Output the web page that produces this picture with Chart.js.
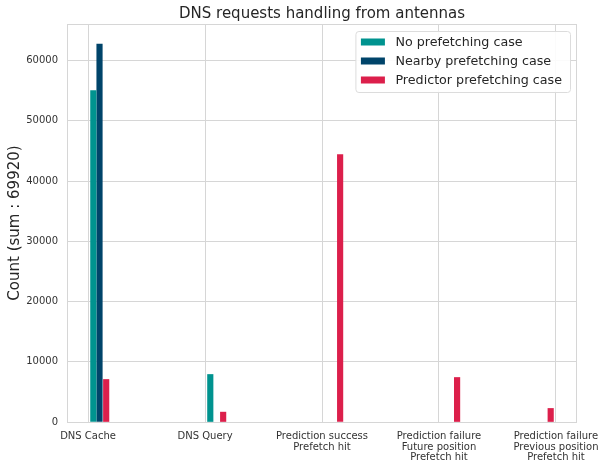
<!DOCTYPE html>
<html>
<head>
<meta charset="utf-8">
<script src="https://cdn.jsdelivr.net/npm/chart.js"></script>
<style>
  html, body { margin: 0; padding: 0; background: #fff; }
  #wrap { width: 598px; height: 466px; }
</style>
</head>
<body>
<div id="wrap"><canvas id="dnsChart" width="598" height="466"></canvas></div>
<script>
// categories on the x axis
const categories = [
    ['DNS Cache'],
    ['DNS Query'],
    ['Prediction success', 'Prefetch hit'],
    ['Prediction failure', 'Future position', 'Prefetch hit'],
    ['Prediction failure', 'Previous position', 'Prefetch hit']
];

// counts
const noPrefetchCounts = [55020, 7890, 0, 0, 0];
const nearbyCounts = [62760, 0, 0, 0, 0];
const predictorCounts = [7060, 1640, 44410, 7390, 2250];

// where each bar sits along the x axis (category units)
const noPrefetchPos = [0.045, 1.045, 2.045, 3.045, 4.045];
const nearbyPos = [0.098, 1.098, 2.098, 3.098, 4.098];
const predictorPos = [0.155, 1.155, 2.155, 3.155, 3.955];

const yTicks = [0, 10000, 20000, 30000, 40000, 50000, 60000];

const FONT = "'DejaVu Sans', sans-serif";
const GRID = '#d6d6d6';

// empty counts draw nothing
function toPoints(pos, counts) {
    return counts.map((c, i) => ({ x: pos[i], y: c === 0 ? null : c }));
}

// legend box inside the plot, top right
const boxLegend = {
    id: 'boxLegend',
    afterDraw(chart) {
        const ctx = chart.ctx;
        const area = chart.chartArea;
        const sets = chart.data.datasets;
        ctx.save();
        ctx.font = '12.7px ' + FONT;
        let maxW = 0;
        sets.forEach(ds => { maxW = Math.max(maxW, ctx.measureText(ds.label).width); });
        const w = 5 + 24 + 11 + maxW + 8;
        const h = 61;
        const right = area.right - 7;
        const left = right - w;
        const top = area.top + 7;
        ctx.fillStyle = 'rgba(255,255,255,0.9)';
        ctx.strokeStyle = '#dcdcdc';
        ctx.lineWidth = 1;
        ctx.beginPath();
        ctx.roundRect(left + 0.5, top + 0.5, w, h, 3);
        ctx.fill();
        ctx.stroke();
        sets.forEach((ds, i) => {
            const cy = top + 11 + i * 19;
            ctx.fillStyle = ds.backgroundColor;
            ctx.fillRect(left + 5.5, cy - 3.5, 24, 7);
            ctx.fillStyle = '#262626';
            ctx.textBaseline = 'middle';
            ctx.textAlign = 'left';
            ctx.fillText(ds.label, left + 40, cy + 0.5);
        });
        ctx.restore();
    }
};

// light frame around the plot area
const plotFrame = {
    id: 'plotFrame',
    beforeDatasetsDraw(chart) {
        const ctx = chart.ctx;
        const a = chart.chartArea;
        ctx.save();
        ctx.strokeStyle = GRID;
        ctx.lineWidth = 1;
        ctx.strokeRect(Math.round(a.left) + 0.5, Math.round(a.top) + 0.5,
            Math.round(a.right - a.left) - 1, Math.round(a.bottom - a.top));
        ctx.restore();
    }
};

new Chart(document.getElementById('dnsChart'), {
    type: 'bar',
    data: {
        datasets: [
            {
                label: 'No prefetching case',
                data: toPoints(noPrefetchPos, noPrefetchCounts),
                backgroundColor: '#00938f'
            },
            {
                label: 'Nearby prefetching case',
                data: toPoints(nearbyPos, nearbyCounts),
                backgroundColor: '#00446a'
            },
            {
                label: 'Predictor prefetching case',
                data: toPoints(predictorPos, predictorCounts),
                backgroundColor: '#dc1f4b'
            }
        ]
    },
    options: {
        responsive: false,
        animation: false,
        layout: { padding: { left: 0, right: 21, top: 0, bottom: 0 } },
        datasets: {
            bar: { grouped: false, barThickness: 5.5, borderWidth: 0 }
        },
        plugins: {
            legend: { display: false },
            tooltip: { enabled: false },
            title: {
                display: true,
                fullSize: false,
                text: 'DNS requests handling from antennas',
                color: '#262626',
                font: { family: FONT, size: 15, weight: 'normal' },
                padding: { top: 5, bottom: 1 }
            }
        },
        scales: {
            x: {
                type: 'linear',
                offset: false,
                min: -0.18,
                max: 4.18,
                afterBuildTicks(scale) {
                    scale.ticks = categories.map((_, i) => ({ value: i }));
                },
                afterFit(scale) {
                    scale.height = 44;
                    scale.paddingLeft = 0;
                    scale.paddingRight = 0;
                },
                grid: { color: GRID, drawTicks: false, offset: false },
                border: { display: false },
                ticks: {
                    color: '#333',
                    font: { family: FONT, size: 10, lineHeight: 1.07 },
                    padding: 9,
                    maxRotation: 0,
                    autoSkip: false,
                    callback: v => categories[v]
                }
            },
            y: {
                min: 0,
                max: 66080,
                afterBuildTicks(scale) {
                    scale.ticks = yTicks.map(v => ({ value: v }));
                },
                afterFit(scale) {
                    scale.width = 67;
                    scale.paddingTop = 0;
                    scale.paddingBottom = 0;
                },
                grid: { color: GRID, drawTicks: false },
                border: { display: false },
                ticks: {
                    color: '#333',
                    font: { family: FONT, size: 10 },
                    padding: 9,
                    callback: v => String(v)
                },
                title: {
                    display: true,
                    text: 'Count (sum : 69920)',
                    color: '#262626',
                    font: { family: FONT, size: 15 },
                    padding: { top: 6, bottom: 0 }
                }
            }
        }
    },
    plugins: [plotFrame, boxLegend]
});
</script>
</body>
</html>
